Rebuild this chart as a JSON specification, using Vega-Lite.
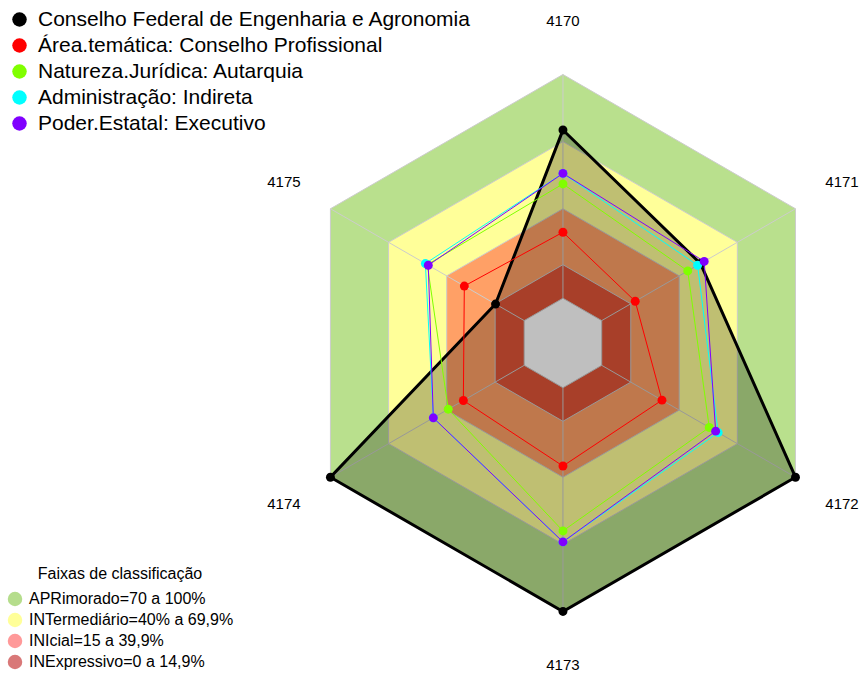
{
  "$schema": "https://vega.github.io/schema/vega-lite/v6.json",
  "width": 863,
  "height": 675,
  "autosize": "none",
  "padding": 0,
  "background": "white",
  "config": {"view": {"stroke": null}, "font": "Liberation Sans"},
  "datasets": {
    "axes": [
      {"axis": "4170", "i": 0},
      {"axis": "4171", "i": 1},
      {"axis": "4172", "i": 2},
      {"axis": "4173", "i": 3},
      {"axis": "4174", "i": 4},
      {"axis": "4175", "i": 5}
    ],
    "bands": [
      {"band": "APRimorado=70 a 100%", "v": 100, "i": 0},
      {"band": "APRimorado=70 a 100%", "v": 100, "i": 1},
      {"band": "APRimorado=70 a 100%", "v": 100, "i": 2},
      {"band": "APRimorado=70 a 100%", "v": 100, "i": 3},
      {"band": "APRimorado=70 a 100%", "v": 100, "i": 4},
      {"band": "APRimorado=70 a 100%", "v": 100, "i": 5},
      {"band": "INTermediário=40% a 69,9%", "v": 70, "i": 0},
      {"band": "INTermediário=40% a 69,9%", "v": 70, "i": 1},
      {"band": "INTermediário=40% a 69,9%", "v": 70, "i": 2},
      {"band": "INTermediário=40% a 69,9%", "v": 70, "i": 3},
      {"band": "INTermediário=40% a 69,9%", "v": 70, "i": 4},
      {"band": "INTermediário=40% a 69,9%", "v": 70, "i": 5},
      {"band": "INIcial=15 a 39,9%", "v": 40, "i": 0},
      {"band": "INIcial=15 a 39,9%", "v": 40, "i": 1},
      {"band": "INIcial=15 a 39,9%", "v": 40, "i": 2},
      {"band": "INIcial=15 a 39,9%", "v": 40, "i": 3},
      {"band": "INIcial=15 a 39,9%", "v": 40, "i": 4},
      {"band": "INIcial=15 a 39,9%", "v": 40, "i": 5},
      {"band": "INExpressivo=0 a 14,9%", "v": 15, "i": 0},
      {"band": "INExpressivo=0 a 14,9%", "v": 15, "i": 1},
      {"band": "INExpressivo=0 a 14,9%", "v": 15, "i": 2},
      {"band": "INExpressivo=0 a 14,9%", "v": 15, "i": 3},
      {"band": "INExpressivo=0 a 14,9%", "v": 15, "i": 4},
      {"band": "INExpressivo=0 a 14,9%", "v": 15, "i": 5},
      {"band": "centro", "v": 0, "i": 0},
      {"band": "centro", "v": 0, "i": 1},
      {"band": "centro", "v": 0, "i": 2},
      {"band": "centro", "v": 0, "i": 3},
      {"band": "centro", "v": 0, "i": 4},
      {"band": "centro", "v": 0, "i": 5}
    ],
    "series": [
      {"series": "Conselho Federal de Engenharia e Agronomia", "i": 0, "v": 75.2},
      {"series": "Conselho Federal de Engenharia e Agronomia", "i": 1, "v": 51},
      {"series": "Conselho Federal de Engenharia e Agronomia", "i": 2, "v": 100},
      {"series": "Conselho Federal de Engenharia e Agronomia", "i": 3, "v": 100},
      {"series": "Conselho Federal de Engenharia e Agronomia", "i": 4, "v": 100},
      {"series": "Conselho Federal de Engenharia e Agronomia", "i": 5, "v": 14.8},
      {"series": "Área.temática: Conselho Profissional", "i": 0, "v": 29.5},
      {"series": "Área.temática: Conselho Profissional", "i": 1, "v": 17.3},
      {"series": "Área.temática: Conselho Profissional", "i": 2, "v": 31.1},
      {"series": "Área.temática: Conselho Profissional", "i": 3, "v": 35},
      {"series": "Área.temática: Conselho Profissional", "i": 4, "v": 31.4},
      {"series": "Área.temática: Conselho Profissional", "i": 5, "v": 30.9},
      {"series": "Natureza.Jurídica: Autarquia", "i": 0, "v": 51.1},
      {"series": "Natureza.Jurídica: Autarquia", "i": 1, "v": 44.4},
      {"series": "Natureza.Jurídica: Autarquia", "i": 2, "v": 55.5},
      {"series": "Natureza.Jurídica: Autarquia", "i": 3, "v": 64},
      {"series": "Natureza.Jurídica: Autarquia", "i": 4, "v": 39.2},
      {"series": "Natureza.Jurídica: Autarquia", "i": 5, "v": 50},
      {"series": "Administração: Indireta", "i": 0, "v": 55.8},
      {"series": "Administração: Indireta", "i": 1, "v": 49.5},
      {"series": "Administração: Indireta", "i": 2, "v": 60.1},
      {"series": "Administração: Indireta", "i": 3, "v": 68.9},
      {"series": "Administração: Indireta", "i": 4, "v": 46.9},
      {"series": "Administração: Indireta", "i": 5, "v": 51},
      {"series": "Poder.Estatal: Executivo", "i": 0, "v": 55.8},
      {"series": "Poder.Estatal: Executivo", "i": 1, "v": 52.9},
      {"series": "Poder.Estatal: Executivo", "i": 2, "v": 58.8},
      {"series": "Poder.Estatal: Executivo", "i": 3, "v": 68.9},
      {"series": "Poder.Estatal: Executivo", "i": 4, "v": 46.9},
      {"series": "Poder.Estatal: Executivo", "i": 5, "v": 49.5}
    ]
  },
  "encoding": {
    "x": {"field": "x", "type": "quantitative", "scale": {"domain": [-251.6, 134.1], "nice": false, "zero": false}, "axis": null},
    "y": {"field": "y", "type": "quantitative", "scale": {"domain": [-148.4, 153.3], "nice": false, "zero": false}, "axis": null}
  },
  "layer": [
    {
      "data": {"name": "bands"},
      "transform": [
        {"filter": "datum.v == 100"},
        {"calculate": "(datum.v + 20) * sin(datum.i * PI / 3)", "as": "x"},
        {"calculate": "(datum.v + 20) * cos(datum.i * PI / 3)", "as": "y"}
      ],
      "mark": {"type": "line", "interpolate": "linear-closed", "stroke": "#cccccc", "strokeWidth": 1, "fill": "#b9e08d"},
      "encoding": {"order": {"field": "i", "type": "quantitative"}}
    },
    {
      "data": {"name": "bands"},
      "transform": [
        {"filter": "datum.v == 70"},
        {"calculate": "(datum.v + 20) * sin(datum.i * PI / 3)", "as": "x"},
        {"calculate": "(datum.v + 20) * cos(datum.i * PI / 3)", "as": "y"}
      ],
      "mark": {"type": "line", "interpolate": "linear-closed", "stroke": "#cccccc", "strokeWidth": 1, "fill": "#ffff99"},
      "encoding": {"order": {"field": "i", "type": "quantitative"}}
    },
    {
      "data": {"name": "bands"},
      "transform": [
        {"filter": "datum.v == 40"},
        {"calculate": "(datum.v + 20) * sin(datum.i * PI / 3)", "as": "x"},
        {"calculate": "(datum.v + 20) * cos(datum.i * PI / 3)", "as": "y"}
      ],
      "mark": {"type": "line", "interpolate": "linear-closed", "stroke": "#cccccc", "strokeWidth": 1, "fill": "#ffa066"},
      "encoding": {"order": {"field": "i", "type": "quantitative"}}
    },
    {
      "data": {"name": "bands"},
      "transform": [
        {"filter": "datum.v == 15"},
        {"calculate": "(datum.v + 20) * sin(datum.i * PI / 3)", "as": "x"},
        {"calculate": "(datum.v + 20) * cos(datum.i * PI / 3)", "as": "y"}
      ],
      "mark": {"type": "line", "interpolate": "linear-closed", "stroke": "#cccccc", "strokeWidth": 1, "fill": "#e05537"},
      "encoding": {"order": {"field": "i", "type": "quantitative"}}
    },
    {
      "data": {"name": "bands"},
      "transform": [
        {"filter": "datum.v == 0"},
        {"calculate": "(datum.v + 20) * sin(datum.i * PI / 3)", "as": "x"},
        {"calculate": "(datum.v + 20) * cos(datum.i * PI / 3)", "as": "y"}
      ],
      "mark": {"type": "line", "interpolate": "linear-closed", "stroke": "#cccccc", "strokeWidth": 1, "fill": "white"},
      "encoding": {"order": {"field": "i", "type": "quantitative"}}
    },
    {
      "data": {"name": "bands"},
      "transform": [
        {"filter": "datum.v > 0 && datum.i == 0"},
        {"calculate": "(datum.v + 20) * sin(datum.i * PI / 3)", "as": "x"},
        {"calculate": "(datum.v + 20) * cos(datum.i * PI / 3)", "as": "y"}
      ],
      "mark": {"type": "point", "filled": true, "opacity": 0},
      "encoding": {
        "fill": {
          "field": "band", "type": "nominal",
          "scale": {"domain": ["APRimorado=70 a 100%", "INTermediário=40% a 69,9%", "INIcial=15 a 39,9%", "INExpressivo=0 a 14,9%"], "range": ["#b5dd8c", "#ffff99", "#ff9999", "#d97878"]},
          "legend": {
            "orient": "none", "legendX": 7, "legendY": 566,
            "title": "Faixas de classificação", "titleFontSize": 16, "titleFontWeight": "normal", "titleAnchor": "middle", "titleColor": "black", "titlePadding": 9,
            "labelFontSize": 16, "labelColor": "black", "labelOffset": 6, "labelLimit": 400,
            "symbolType": "circle", "symbolSize": 210, "symbolStrokeWidth": 0, "symbolOpacity": 1, "rowPadding": 5
          }
        }
      }
    },
    {
      "data": {"name": "axes"},
      "transform": [
        {"calculate": "20 * sin(datum.i * PI / 3)", "as": "x"},
        {"calculate": "20 * cos(datum.i * PI / 3)", "as": "y"},
        {"calculate": "120 * sin(datum.i * PI / 3)", "as": "x2"},
        {"calculate": "120 * cos(datum.i * PI / 3)", "as": "y2"}
      ],
      "mark": {"type": "rule", "color": "#cccccc", "strokeWidth": 1},
      "encoding": {
        "x2": {"field": "x2"},
        "y2": {"field": "y2"}
      }
    },
    {
      "data": {"name": "series"},
      "transform": [
        {"filter": "datum.series == 'Conselho Federal de Engenharia e Agronomia'"},
        {"calculate": "(datum.v + 20) * sin(datum.i * PI / 3)", "as": "x"},
        {"calculate": "(datum.v + 20) * cos(datum.i * PI / 3)", "as": "y"}
      ],
      "mark": {"type": "line", "interpolate": "linear-closed", "strokeWidth": 3, "fill": "black", "fillOpacity": 0.25},
      "encoding": {
        "order": {"field": "i", "type": "quantitative"},
        "color": {"field": "series", "type": "nominal"}
      }
    },
    {
      "data": {"name": "series"},
      "transform": [
        {"filter": "datum.series == 'Área.temática: Conselho Profissional'"},
        {"calculate": "(datum.v + 20) * sin(datum.i * PI / 3)", "as": "x"},
        {"calculate": "(datum.v + 20) * cos(datum.i * PI / 3)", "as": "y"}
      ],
      "mark": {"type": "line", "interpolate": "linear-closed", "strokeWidth": 1},
      "encoding": {
        "order": {"field": "i", "type": "quantitative"},
        "color": {"field": "series", "type": "nominal"}
      }
    },
    {
      "data": {"name": "series"},
      "transform": [
        {"filter": "datum.series == 'Natureza.Jurídica: Autarquia'"},
        {"calculate": "(datum.v + 20) * sin(datum.i * PI / 3)", "as": "x"},
        {"calculate": "(datum.v + 20) * cos(datum.i * PI / 3)", "as": "y"}
      ],
      "mark": {"type": "line", "interpolate": "linear-closed", "strokeWidth": 1},
      "encoding": {
        "order": {"field": "i", "type": "quantitative"},
        "color": {"field": "series", "type": "nominal"}
      }
    },
    {
      "data": {"name": "series"},
      "transform": [
        {"filter": "datum.series == 'Administração: Indireta'"},
        {"calculate": "(datum.v + 20) * sin(datum.i * PI / 3)", "as": "x"},
        {"calculate": "(datum.v + 20) * cos(datum.i * PI / 3)", "as": "y"}
      ],
      "mark": {"type": "line", "interpolate": "linear-closed", "strokeWidth": 1},
      "encoding": {
        "order": {"field": "i", "type": "quantitative"},
        "color": {"field": "series", "type": "nominal"}
      }
    },
    {
      "data": {"name": "series"},
      "transform": [
        {"filter": "datum.series == 'Poder.Estatal: Executivo'"},
        {"calculate": "(datum.v + 20) * sin(datum.i * PI / 3)", "as": "x"},
        {"calculate": "(datum.v + 20) * cos(datum.i * PI / 3)", "as": "y"}
      ],
      "mark": {"type": "line", "interpolate": "linear-closed", "strokeWidth": 1},
      "encoding": {
        "order": {"field": "i", "type": "quantitative"},
        "color": {"field": "series", "type": "nominal"}
      }
    },
    {
      "data": {"name": "series"},
      "transform": [
        {"calculate": "(datum.v + 20) * sin(datum.i * PI / 3)", "as": "x"},
        {"calculate": "(datum.v + 20) * cos(datum.i * PI / 3)", "as": "y"}
      ],
      "mark": {"type": "point", "filled": true, "size": 80, "opacity": 1},
      "encoding": {
        "color": {
          "field": "series", "type": "nominal",
          "scale": {"domain": ["Conselho Federal de Engenharia e Agronomia", "Área.temática: Conselho Profissional", "Natureza.Jurídica: Autarquia", "Administração: Indireta", "Poder.Estatal: Executivo"], "range": ["#000000", "#ff0000", "#80ff00", "#00ffff", "#8000ff"]},
          "legend": {
            "orient": "none", "legendX": 9, "legendY": 9, "title": null,
            "symbolType": "circle", "symbolSize": 210, "symbolStrokeWidth": 0, "symbolOpacity": 1,
            "labelFontSize": 21, "labelColor": "black", "labelOffset": 8, "rowPadding": 4, "labelLimit": 600
          }
        }
      }
    },
    {
      "data": {"name": "axes"},
      "transform": [
        {"calculate": "144 * sin(datum.i * PI / 3)", "as": "x"},
        {"calculate": "144 * cos(datum.i * PI / 3)", "as": "y"}
      ],
      "mark": {"type": "text", "fontSize": 15, "color": "black", "align": "center", "baseline": "middle"},
      "encoding": {
        "text": {"field": "axis", "type": "nominal"}
      }
    }
  ]
}
